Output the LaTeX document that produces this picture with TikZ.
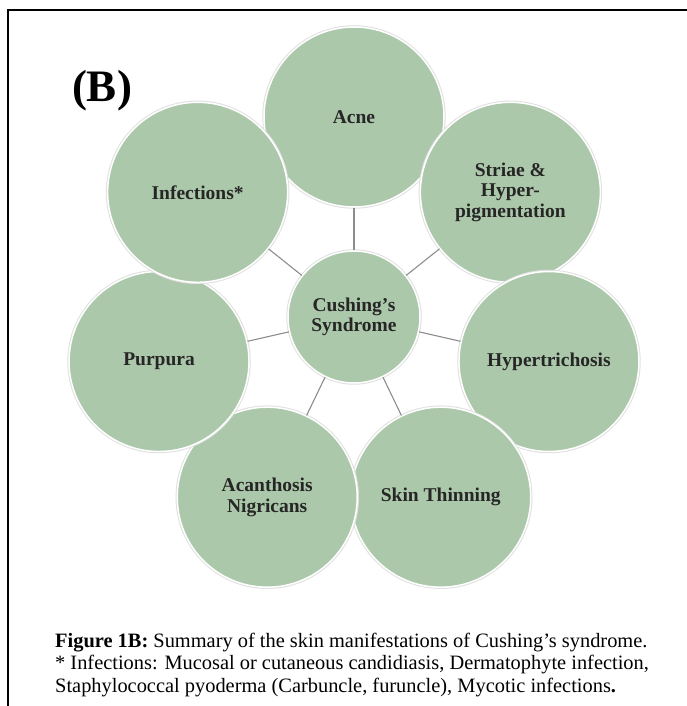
\documentclass[tikz,border=0pt]{standalone}
\usepackage{fontspec}
\setmainfont{Liberation Serif}
\usepackage{tikz}
\definecolor{sage}{RGB}{172,200,170}
\tikzset{
  bubble/.style = {circle, align=center, inner sep=0pt, text centered,
    font=\bfseries\fontsize{19.5}{20.5}\selectfont, text=black!85,
    fill=sage, draw=white, line width=1.5pt,
    preaction={draw=black!12, line width=3.5pt}},% green disc
  sym/.style = {bubble, minimum size=180pt},% symptom circle
  hub/.style = {bubble, minimum size=132pt},% centre circle
  spoke/.style = {draw=black!45, line width=1.1pt}% grey connector
}

\begin{document}
\begin{tikzpicture}[x=1pt,y=1pt]
\useasboundingbox (-354,-389) rectangle (333,317);
\draw[line width=1.2pt] (-346,-389) -- (-346,307) -- (333,307);
\node (lbl) at (-252,226) {\bfseries\fontsize{45}{45}\selectfont (B)};

\node [hub] (cs) at (0,0) {Cushing’s\\Syndrome};
\node [sym] (acne) at (90:200pt) {Acne};
\node [sym] (striae) at (38.57:200pt) {Striae \&\\Hyper-\\pigmentation};
\node [sym] (hyper) at (-12.86:200pt) {Hypertrichosis};
\node [sym] (thin) at (-64.29:200pt) {Skin Thinning};
\node [sym] (acan) at (-115.71:200pt) {Acanthosis\\Nigricans};
\node [sym] (purp) at (192.86:200pt) {Purpura};
\node [sym] (inf) at (141.43:200pt) {Infections*};

\draw[spoke] (cs) -- (acne);
\draw[spoke] (cs) -- (striae);
\draw[spoke] (cs) -- (hyper);
\draw[spoke] (cs) -- (thin);
\draw[spoke] (cs) -- (acan);
\draw[spoke] (cs) -- (purp);
\draw[spoke] (cs) -- (inf);

\node [anchor=base west, align=left, inner sep=0pt,
  font=\fontsize{20.4}{22.4}\selectfont] (cap) at (-299,-375)
  {\textbf{Figure 1B:} Summary of the skin manifestations of Cushing’s syndrome.\\
   * Infections: Mucosal or cutaneous candidiasis, Dermatophyte infection,\\
   Staphylococcal pyoderma (Carbuncle, furuncle), Mycotic infections\textbf{.}};
\end{tikzpicture}
\end{document}
